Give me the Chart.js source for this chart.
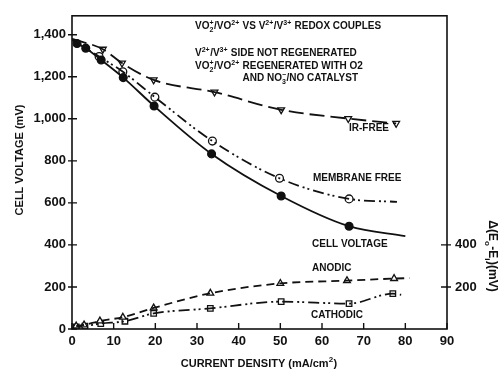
<!DOCTYPE html>
<html>
<head>
<meta charset="utf-8">
<script src="https://cdn.jsdelivr.net/npm/chart.js@4.4.1/dist/chart.umd.min.js"></script>
<style>
html,body{margin:0;padding:0;background:#fff;}
#wrap{width:501px;height:370px;}
</style>
</head>
<body>
<div id="wrap"><canvas id="c" width="501" height="370"></canvas></div>
<script>
// ---- data ----
const xTicks = [0,10,20,30,40,50,60,70,80,90];
const yTicks = [0,200,400,600,800,1000,1200,1400];
const rightTicks = [200,400];

const cellX = [1.2, 3.3, 7.0, 12.3, 19.7, 33.5, 50.2, 66.5];
const cellY = [1358, 1336, 1280, 1196, 1061, 833, 633, 489];
const cellStart = [0, 1375];
const cellEnd = [80, 442];

const memX = [6.5, 12.2, 19.9, 33.7, 49.8, 66.5];
const memY = [1296, 1224, 1103, 894, 717, 619];
const memStart = [0, 1377];
const memEnd = [78, 605];

const irX = [7.4, 12.0, 19.6, 34.2, 50.2, 66.3, 77.8];
const irY = [1331, 1265, 1185, 1127, 1043, 1001, 978];
const irStart = [0, 1380];

const anoX = [1.0, 2.9, 6.7, 12.2, 19.6, 33.2, 50.0, 66.0, 77.3];
const anoY = [14, 19, 38, 56, 100, 170, 217, 230, 240];
const anoEnd = [81, 242];

const catX = [1.0, 3.1, 6.9, 12.7, 19.6, 33.2, 50.2, 66.5, 77.0];
const catY = [10, 14, 26, 37, 74, 98, 130, 121, 168];
const catEnd = [79, 163];

// ---- helpers ----
const INK = '#111';
const FONT = '"Liberation Sans", Arial, sans-serif';
function pts(xs, ys){ return xs.map((x,i)=>({x:x, y:ys[i]})); }
function curve(start, xs, ys, end){
  const p = pts(xs, ys);
  if (start) p.unshift({x:start[0], y:start[1]});
  if (end) p.push({x:end[0], y:end[1]});
  return p;
}
function lineDs(data, dash){
  return {data, showLine:true, borderColor:INK, borderWidth:1.8, borderDash:dash,
    pointRadius:0, cubicInterpolationMode:'monotone', fill:false};
}
function markDs(data, style, fillColor, rot){
  return {data, showLine:false, pointStyle:style, pointRadius:3.9, pointRotation:rot||0,
    pointBackgroundColor:fillColor, pointBorderColor:INK, pointBorderWidth:1.3};
}

function richWidth(ctx, parts, size){
  let w = 0;
  for (const p of parts){
    if (typeof p === 'string'){ ctx.font = `bold ${size}px ${FONT}`; w += ctx.measureText(p).width; }
    else { ctx.font = `bold ${Math.round(size*0.7)}px ${FONT}`;
      w += Math.max(p.sup?ctx.measureText(p.sup).width:0, p.sub?ctx.measureText(p.sub).width:0) + 0.5; }
  }
  return w;
}
function drawRich(ctx, x, y, parts, size){
  let cx = x;
  ctx.textBaseline = 'alphabetic';
  ctx.textAlign = 'left';
  for (const p of parts){
    if (typeof p === 'string'){
      ctx.font = `bold ${size}px ${FONT}`;
      ctx.fillText(p, cx, y); cx += ctx.measureText(p).width;
    } else {
      ctx.font = `bold ${Math.round(size*0.7)}px ${FONT}`;
      let w = 0;
      if (p.sup){ ctx.fillText(p.sup, cx, y - size*0.42); w = Math.max(w, ctx.measureText(p.sup).width); }
      if (p.sub){ ctx.fillText(p.sub, cx, y + size*0.32); w = Math.max(w, ctx.measureText(p.sub).width); }
      cx += w + 0.5;
    }
  }
  return cx;
}

const decor = {
  id:'decor',
  afterDraw(chart){
    const ctx = chart.ctx, a = chart.chartArea;
    const xs = chart.scales.x, ys = chart.scales.y;
    ctx.save();
    ctx.strokeStyle = INK; ctx.fillStyle = INK; ctx.lineWidth = 1.6;
    ctx.strokeRect(a.left, a.top, a.right-a.left, a.bottom-a.top);
    ctx.lineWidth = 1.4;
    ctx.beginPath();
    for (const v of yTicks){ const py = ys.getPixelForValue(v); ctx.moveTo(a.left-4, py); ctx.lineTo(a.left+5, py); }
    for (const v of xTicks){ const px = xs.getPixelForValue(v); ctx.moveTo(px, a.bottom); ctx.lineTo(px, a.bottom-6); }
    for (const v of rightTicks){ const py = ys.getPixelForValue(v); ctx.moveTo(a.right-6, py); ctx.lineTo(a.right+4, py); }
    ctx.stroke();

    // annotation block
    const s = 10;
    drawRich(ctx, 195, 29, ['VO',{sub:'2',sup:'+'},'/VO',{sup:'2+'},' VS V',{sup:'2+'},'/V',{sup:'3+'},' REDOX COUPLES'], s);
    drawRich(ctx, 195, 56, ['V',{sup:'2+'},'/V',{sup:'3+'},' SIDE NOT REGENERATED'], s);
    const rx = drawRich(ctx, 195, 69, ['VO',{sub:'2',sup:'+'},'/VO',{sup:'2+'},' '], s);
    drawRich(ctx, rx, 69, ['REGENERATED WITH O2'], s);
    drawRich(ctx, rx, 81, ['AND NO',{sub:'3',sup:'\u2212'},'/NO CATALYST'], s);

    // curve labels
    drawRich(ctx, 349, 131, ['IR-FREE'], s);
    drawRich(ctx, 313, 181, ['MEMBRANE FREE'], s);
    drawRich(ctx, 312, 247, ['CELL VOLTAGE'], s);
    drawRich(ctx, 312, 271, ['ANODIC'], s);
    drawRich(ctx, 311, 318, ['CATHODIC'], s);

    // axis titles
    const xt = ['CURRENT DENSITY (mA/cm',{sup:'2'},')'];
    const xw = richWidth(ctx, xt, 11);
    drawRich(ctx, 259 - xw/2, 367, xt, 11);

    const lt = ['CELL VOLTAGE (mV)'];
    const lw = richWidth(ctx, lt, 11);
    ctx.save(); ctx.translate(23, 160); ctx.rotate(-Math.PI/2);
    drawRich(ctx, -lw/2, 0, lt, 11); ctx.restore();

    const rt = ['\u0394(E',{sub:'o'},'-E',{sub:'i'},')(mV)'];
    const rw = richWidth(ctx, rt, 12);
    ctx.save(); ctx.translate(489, 256); ctx.rotate(Math.PI/2);
    drawRich(ctx, -rw/2, 0, rt, 12); ctx.restore();
    ctx.restore();
  }
};

new Chart(document.getElementById('c'), {
  type:'scatter',
  data:{ datasets:[
    lineDs(curve(cellStart, cellX, cellY, cellEnd), []),
    markDs(pts(cellX, cellY), 'circle', INK),
    lineDs(curve(memStart, memX, memY, memEnd), [11,4,2,3,2,4]),
    markDs(pts(memX, memY), 'circle', '#fff'),
    lineDs(curve(irStart, irX, irY, null), [15,6]),
    markDs(pts(irX, irY), 'triangle', '#fff', 180),
    lineDs(curve(null, anoX, anoY, anoEnd), [8,5]),
    markDs(pts(anoX, anoY), 'triangle', '#fff'),
    lineDs(curve(null, catX, catY, catEnd), [11,4,2,3,2,4]),
    markDs(pts(catX, catY), 'rect', '#fff'),
  ]},
  options:{
    responsive:false, animation:false, events:[],
    layout:{padding:{top:8, left:0, right:0, bottom:0}},
    plugins:{legend:{display:false}, tooltip:{enabled:false}},
    scales:{
      x:{type:'linear', min:0, max:90, position:'bottom',
        grid:{display:false, drawTicks:false}, border:{display:false},
        afterBuildTicks:(s)=>{ s.ticks = xTicks.map(v=>({value:v})); },
        ticks:{color:INK, font:{family:FONT, size:13, weight:'bold'}, padding:5, maxRotation:0, autoSkip:false},
        afterFit:(s)=>{ s.height = 41; }},
      y:{type:'linear', min:0, max:1490, position:'left',
        grid:{display:false, drawTicks:false}, border:{display:false},
        afterBuildTicks:(s)=>{ s.ticks = yTicks.map(v=>({value:v})); },
        ticks:{color:INK, font:{family:FONT, size:13, weight:'bold'}, padding:6,
          callback:(v)=>v.toLocaleString('en-US')},
        afterFit:(s)=>{ s.width = 72; }},
      y2:{type:'linear', min:0, max:1490, position:'right',
        grid:{display:false, drawTicks:false}, border:{display:false},
        afterBuildTicks:(s)=>{ s.ticks = rightTicks.map(v=>({value:v})); },
        ticks:{color:INK, font:{family:FONT, size:13, weight:'bold'}, padding:8},
        afterFit:(s)=>{ s.width = 54; }}
    }
  },
  plugins:[decor]
});
</script>
</body>
</html>
